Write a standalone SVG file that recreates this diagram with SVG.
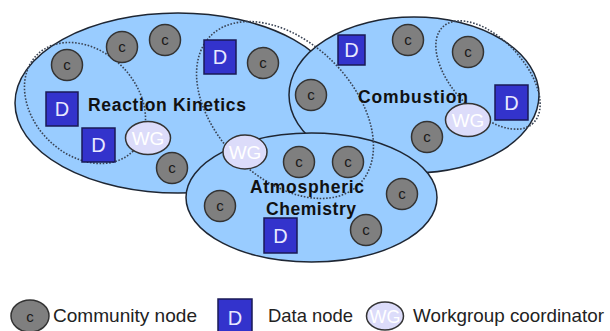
<svg xmlns="http://www.w3.org/2000/svg" width="610" height="331" viewBox="0 0 610 331">
<style>
.grp{fill:#99ccff;stroke:#1e2633;stroke-width:1.5}
.dot{fill:none;stroke:#3a4455;stroke-width:1.6;stroke-dasharray:1.6 1.6}
.c circle,.c ellipse{fill:#7f7f7f;stroke:#333;stroke-width:1.5}
.c text{font-family:"Liberation Sans",Arial,sans-serif;font-size:15px;fill:#1a1a1a;text-anchor:middle}
.d rect{fill:#3333cc;stroke:#1a1a55;stroke-width:1.5}
.d text{font-family:"Liberation Sans",Arial,sans-serif;font-size:20px;fill:#e8e8ff;text-anchor:middle}
.wg ellipse{fill:#dcdcfa;stroke:#333;stroke-width:1.5}
.wg text{font-family:"Liberation Sans",Arial,sans-serif;font-size:19px;fill:#ffffff;text-anchor:middle}
.lbl{font-family:"Liberation Sans",Arial,sans-serif;font-size:17.5px;font-weight:bold;fill:#111}
.leg{font-family:"Liberation Sans",Arial,sans-serif;font-size:19px;fill:#222}
</style>
<rect width="610" height="331" fill="#ffffff"/>
<g id="groups">
<ellipse id="rk" class="grp" cx="178" cy="103" rx="163" ry="90"/>
<ellipse id="comb" class="grp" cx="414" cy="95" rx="125" ry="78"/>
<ellipse id="atm" class="grp" cx="311.5" cy="197.5" rx="125.5" ry="64.5"/>
</g>
<g id="connectors">
<ellipse class="dot" cx="85" cy="103" rx="68" ry="52" transform="rotate(45 85 103)"/>
<ellipse class="dot" cx="285" cy="110" rx="105" ry="68" transform="rotate(45 285 110)"/>
<ellipse class="dot" cx="488" cy="75" rx="66" ry="36" transform="rotate(47 488 75)"/>
</g>
<g id="labels">
<text class="lbl" x="88" y="111" textLength="158" lengthAdjust="spacing">Reaction Kinetics</text>
<text class="lbl" x="358" y="103" textLength="110" lengthAdjust="spacing">Combustion</text>
<text class="lbl" x="250" y="193" textLength="114" lengthAdjust="spacing">Atmospheric</text>
<text class="lbl" x="266" y="215" textLength="90" lengthAdjust="spacing">Chemistry</text>
</g>
<g id="c1" class="c"><circle cx="67" cy="65" r="15.5"/><text x="67" y="70">c</text></g>
<g id="c2" class="c"><circle cx="122" cy="47" r="15.5"/><text x="122" y="52">c</text></g>
<g id="c3" class="c"><circle cx="165" cy="40" r="15.5"/><text x="165" y="45">c</text></g>
<g id="c4" class="c"><circle cx="263" cy="63" r="15.5"/><text x="263" y="68">c</text></g>
<g id="c5" class="c"><circle cx="172" cy="168" r="15.5"/><text x="172" y="173">c</text></g>
<g id="c6" class="c"><circle cx="311" cy="95" r="15.5"/><text x="311" y="100">c</text></g>
<g id="c7" class="c"><circle cx="408" cy="40" r="15.5"/><text x="408" y="45">c</text></g>
<g id="c8" class="c"><circle cx="468" cy="52" r="15.5"/><text x="468" y="57">c</text></g>
<g id="c9" class="c"><circle cx="427" cy="137" r="15.5"/><text x="427" y="142">c</text></g>
<g id="c10" class="c"><circle cx="299" cy="162" r="15.5"/><text x="299" y="167">c</text></g>
<g id="c11" class="c"><circle cx="348" cy="162" r="15.5"/><text x="348" y="167">c</text></g>
<g id="c12" class="c"><circle cx="220" cy="206" r="15.5"/><text x="220" y="211">c</text></g>
<g id="c13" class="c"><circle cx="402" cy="194" r="15.5"/><text x="402" y="199">c</text></g>
<g id="c14" class="c"><circle cx="366" cy="230" r="15.5"/><text x="366" y="235">c</text></g>
<g id="d1" class="d"><rect x="46" y="92" width="32" height="34"/><text x="62" y="116">D</text></g>
<g id="d2" class="d"><rect x="82" y="128" width="33" height="34"/><text x="98.5" y="152">D</text></g>
<g id="d3" class="d"><rect x="204" y="40" width="32" height="34"/><text x="220" y="64">D</text></g>
<g id="d4" class="d"><rect x="338" y="35" width="27" height="30"/><text x="351.5" y="57">D</text></g>
<g id="d5" class="d"><rect x="495" y="85" width="33" height="35"/><text x="511.5" y="110">D</text></g>
<g id="d6" class="d"><rect x="264" y="218" width="33" height="35"/><text x="280.5" y="243">D</text></g>
<g id="wg1" class="wg"><ellipse cx="148" cy="138" rx="22.5" ry="16.5"/><text x="148" y="145">WG</text></g>
<g id="wg2" class="wg"><ellipse cx="245" cy="152" rx="22" ry="17"/><text x="245" y="159">WG</text></g>
<g id="wg3" class="wg"><ellipse cx="468" cy="120" rx="22.5" ry="16.5"/><text x="468" y="127">WG</text></g>
<g id="legend">
<g id="leg-c" class="c"><ellipse cx="30" cy="316" rx="19" ry="16"/><text x="30" y="322">c</text></g>
<text class="leg" x="53" y="322" textLength="144" lengthAdjust="spacingAndGlyphs">Community node</text>
<g id="leg-d" class="d"><rect x="218" y="299" width="34" height="34"/><text x="235" y="325">D</text></g>
<text class="leg" x="268" y="322" textLength="85" lengthAdjust="spacingAndGlyphs">Data node</text>
<g id="leg-wg" class="wg"><ellipse cx="385" cy="316" rx="18.5" ry="14"/><text x="385" y="323" style="font-size:18px">WG</text></g>
<text class="leg" x="413" y="322" textLength="191" lengthAdjust="spacingAndGlyphs">Workgroup coordinator</text>
</g>
</svg>
